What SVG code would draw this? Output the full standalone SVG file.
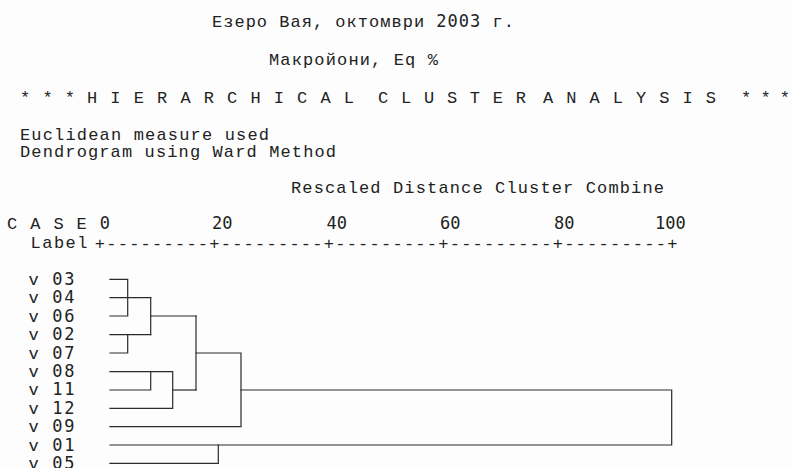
<svg xmlns="http://www.w3.org/2000/svg" width="791" height="468" viewBox="0 0 791 468">
<style>
.t{font-family:"Liberation Mono","DejaVu Sans Mono",monospace;font-size:17px;fill:#222}
.d{font-family:"DejaVu Sans Mono","Liberation Mono",monospace}
.n{font-family:"DejaVu Sans Mono","Liberation Mono",monospace;font-size:17px;fill:#222}
.ln{fill:none;stroke:#2b2b2b;stroke-width:1.2;stroke-linejoin:miter;stroke-linecap:square}
</style>
<rect width="791" height="468" fill="#fcfdfc"/>
<g id="header">
<text class="t" x="212" y="27" textLength="302" lengthAdjust="spacing">Езеро Вая, октомври <tspan class="d">2003</tspan> г.</text>
<text class="t" x="269" y="65" textLength="169" lengthAdjust="spacing">Макройони, Eq %</text>
<text class="t" x="20" y="103" textLength="55" lengthAdjust="spacing">* * *</text>
<text class="t" x="87" y="103" textLength="267" lengthAdjust="spacing">H I E R A R C H I C A L</text>
<text class="t" x="378" y="103" textLength="148" lengthAdjust="spacing">C L U S T E R</text>
<text class="t" x="543" y="103" textLength="173" lengthAdjust="spacing">A N A L Y S I S</text>
<text class="t" x="741" y="103" textLength="49" lengthAdjust="spacing">* * *</text>
<text class="t" x="20" y="139.5" textLength="249" lengthAdjust="spacing">Euclidean measure used</text>
<text class="t" x="20" y="157" textLength="316" lengthAdjust="spacing">Dendrogram using Ward Method</text>
<text class="t" x="291" y="193" textLength="373" lengthAdjust="spacing">Rescaled Distance Cluster Combine</text>
</g>
<g id="scale">
<text class="t" x="7" y="229" textLength="103" lengthAdjust="spacing">C A S E <tspan class="d">0</tspan></text>
<text class="n" x="212" y="229">20</text>
<text class="n" x="326.5" y="229">40</text>
<text class="n" x="440" y="229">60</text>
<text class="n" x="554" y="229">80</text>
<text class="n" x="655" y="229">100</text>
<text class="t" x="30.5" y="248" textLength="57" lengthAdjust="spacing">Label</text>
<text class="t" x="94.8" y="249" textLength="582.6" lengthAdjust="spacing">+---------+---------+---------+---------+---------+</text>
</g>
<g id="leaf-v03"><text class="t" x="28.5" y="285" textLength="46" lengthAdjust="spacing">v <tspan class="d">03</tspan></text></g>
<g id="leaf-v04"><text class="t" x="28.5" y="303.4" textLength="46" lengthAdjust="spacing">v <tspan class="d">04</tspan></text></g>
<g id="leaf-v06"><text class="t" x="28.5" y="321.8" textLength="46" lengthAdjust="spacing">v <tspan class="d">06</tspan></text></g>
<g id="leaf-v02"><text class="t" x="28.5" y="340.2" textLength="46" lengthAdjust="spacing">v <tspan class="d">02</tspan></text></g>
<g id="leaf-v07"><text class="t" x="28.5" y="358.6" textLength="46" lengthAdjust="spacing">v <tspan class="d">07</tspan></text></g>
<g id="leaf-v08"><text class="t" x="28.5" y="377" textLength="46" lengthAdjust="spacing">v <tspan class="d">08</tspan></text></g>
<g id="leaf-v11"><text class="t" x="28.5" y="395.4" textLength="46" lengthAdjust="spacing">v <tspan class="d">11</tspan></text></g>
<g id="leaf-v12"><text class="t" x="28.5" y="413.8" textLength="46" lengthAdjust="spacing">v <tspan class="d">12</tspan></text></g>
<g id="leaf-v09"><text class="t" x="28.5" y="432.2" textLength="46" lengthAdjust="spacing">v <tspan class="d">09</tspan></text></g>
<g id="leaf-v01"><text class="t" x="28.5" y="450.6" textLength="46" lengthAdjust="spacing">v <tspan class="d">01</tspan></text></g>
<g id="leaf-v05"><text class="t" x="28.5" y="469" textLength="46" lengthAdjust="spacing">v <tspan class="d">05</tspan></text></g>
<g id="connectors" class="ln">
<path d="M110 279.3H127.7V316H110"/>
<path d="M110 297.7H150.7"/>
<path d="M110 334.7H150.7"/>
<path d="M110 353H127.7V334.7"/>
<path d="M150.7 297.7V334.7"/>
<path d="M150.7 316H196"/>
<path d="M110 371.7H172.7V408.3H110"/>
<path d="M110 390H150.7V371.7"/>
<path d="M172.7 390H196"/>
<path d="M196 316V390"/>
<path d="M196 353H241V426.7H110"/>
<path d="M241 390H671.7V445H110"/>
<path d="M110 463.3H218.3V445"/>
</g>
</svg>
